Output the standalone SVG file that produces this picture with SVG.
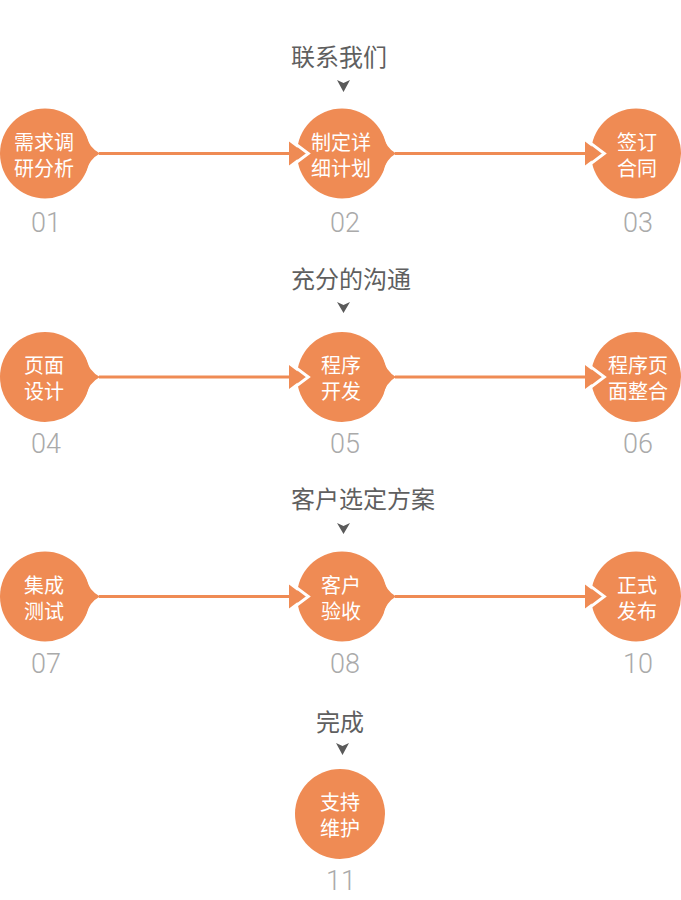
<svg xmlns="http://www.w3.org/2000/svg" width="681" height="900" viewBox="0 0 681 900">
<style>
.c{fill:#EF8B54}
.t{fill:#fff;font-family:"Noto Sans CJK SC","Noto Sans",sans-serif;font-size:20px;text-anchor:middle}
.n{fill:#AAAAAA;font-family:Roboto,"Liberation Sans",sans-serif;font-weight:300;font-size:27px;text-anchor:middle}
.l{fill:#5F5F5F;font-family:"Noto Sans CJK SC","Noto Sans",sans-serif;font-size:24px}
.d{fill:#5A5A5A}
.ln{stroke:#EF8B54;stroke-width:3;fill:none}
.ah{fill:#EF8B54}
.wc{fill:none;stroke:#fff;stroke-width:3;stroke-linejoin:miter}
</style>
<rect width="681" height="900" fill="#fff"/>

<g id="labels">
<text class="l" x="291" y="66">联系我们</text>
<polygon class="d" points="337,80 343.5,83 350,80 343.5,92"/>
<text class="l" x="291" y="288">充分的沟通</text>
<polygon class="d" points="337,302 343.5,305 350,302 343.5,313"/>
<text class="l" x="291" y="508">客户选定方案</text>
<polygon class="d" points="337,523 343.5,526 350,523 343.5,534"/>
<text class="l" x="316" y="731">完成</text>
<polygon class="d" points="336,743 342.5,746 349,743 342.5,755"/>
</g>

<g id="node01">
<circle class="c" cx="45" cy="153.5" r="45"/>
<path class="c" d="M85,133.5 Q89,148 100,153.5 Q89,159 85,173.5 Z"/>
<text class="t" x="44" y="149.5">需求调</text>
<text class="t" x="44" y="175.5">研分析</text>
<text class="n" x="46" y="232">01</text>
</g>
<g id="node02">
<circle class="c" cx="342" cy="153.5" r="45"/>
<path class="c" d="M382,133.5 Q386,148 396,153.5 Q386,159 382,173.5 Z"/>
<text class="t" x="341" y="149.5">制定详</text>
<text class="t" x="341" y="175.5">细计划</text>
<text class="n" x="345" y="232">02</text>
</g>
<g id="node03">
<circle class="c" cx="636" cy="153.5" r="45"/>
<text class="t" x="637" y="149.5">签订</text>
<text class="t" x="637" y="175.5">合同</text>
<text class="n" x="638" y="232">03</text>
</g>

<g id="node04">
<circle class="c" cx="45" cy="377" r="45"/>
<path class="c" d="M85,357 Q89,371.5 100,377 Q89,382.5 85,397 Z"/>
<text class="t" x="44" y="373">页面</text>
<text class="t" x="44" y="399">设计</text>
<text class="n" x="46" y="453">04</text>
</g>
<g id="node05">
<circle class="c" cx="342" cy="377" r="45"/>
<path class="c" d="M382,357 Q386,371.5 396,377 Q386,382.5 382,397 Z"/>
<text class="t" x="341" y="373">程序</text>
<text class="t" x="341" y="399">开发</text>
<text class="n" x="345" y="453">05</text>
</g>
<g id="node06">
<circle class="c" cx="636" cy="377" r="45"/>
<text class="t" x="638" y="373">程序页</text>
<text class="t" x="638" y="399">面整合</text>
<text class="n" x="638" y="453">06</text>
</g>

<g id="node07">
<circle class="c" cx="45" cy="596.5" r="45"/>
<path class="c" d="M85,576.5 Q89,591 100,596.5 Q89,602 85,616.5 Z"/>
<text class="t" x="44" y="592.5">集成</text>
<text class="t" x="44" y="618.5">测试</text>
<text class="n" x="46" y="673">07</text>
</g>
<g id="node08">
<circle class="c" cx="342" cy="596.5" r="45"/>
<path class="c" d="M382,576.5 Q386,591 396,596.5 Q386,602 382,616.5 Z"/>
<text class="t" x="341" y="592.5">客户</text>
<text class="t" x="341" y="618.5">验收</text>
<text class="n" x="345" y="673">08</text>
</g>
<g id="node10">
<circle class="c" cx="636" cy="596.5" r="45"/>
<text class="t" x="637" y="592.5">正式</text>
<text class="t" x="637" y="618.5">发布</text>
<text class="n" x="638" y="673">10</text>
</g>

<g id="node11">
<circle class="c" cx="340" cy="814" r="45"/>
<text class="t" x="340" y="810">支持</text>
<text class="t" x="340" y="836">维护</text>
<text class="n" x="341" y="890">11</text>
</g>

<g id="connectors">
<line class="ln" x1="99" y1="153.5" x2="290" y2="153.5"/>
<polygon class="ah" points="289,141.5 305,153.5 289,165.5"/>
<polyline class="wc" points="290.2,139.9 308.3,153.5 290.2,167.1"/>
<line class="ln" x1="395" y1="153.5" x2="586" y2="153.5"/>
<polygon class="ah" points="585,141.5 601,153.5 585,165.5"/>
<polyline class="wc" points="586.2,139.9 604.3,153.5 586.2,167.1"/>

<line class="ln" x1="99" y1="377" x2="290" y2="377"/>
<polygon class="ah" points="289,365 305,377 289,389"/>
<polyline class="wc" points="290.2,363.4 308.3,377 290.2,390.6"/>
<line class="ln" x1="395" y1="377" x2="586" y2="377"/>
<polygon class="ah" points="585,365 601,377 585,389"/>
<polyline class="wc" points="586.2,363.4 604.3,377 586.2,390.6"/>

<line class="ln" x1="99" y1="596.5" x2="290" y2="596.5"/>
<polygon class="ah" points="289,584.5 305,596.5 289,608.5"/>
<polyline class="wc" points="290.2,582.9 308.3,596.5 290.2,610.1"/>
<line class="ln" x1="395" y1="596.5" x2="586" y2="596.5"/>
<polygon class="ah" points="585,584.5 601,596.5 585,608.5"/>
<polyline class="wc" points="586.2,582.9 604.3,596.5 586.2,610.1"/>
</g>
</svg>
